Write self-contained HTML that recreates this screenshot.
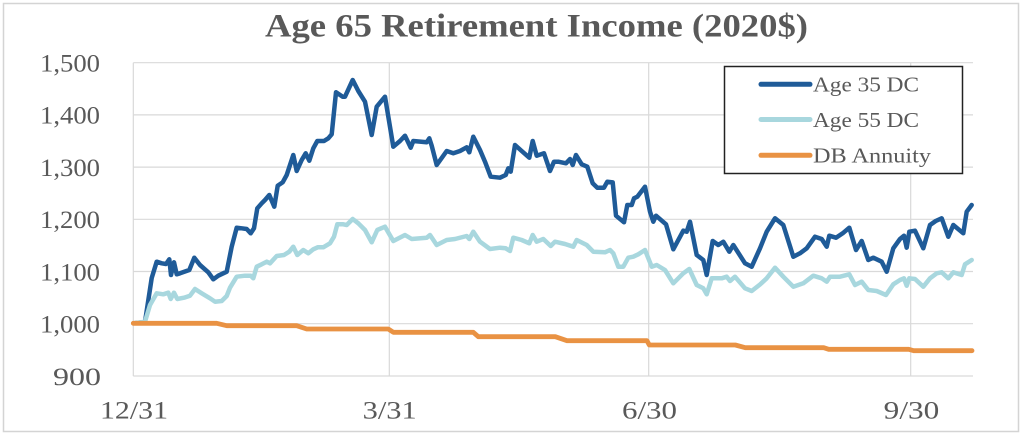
<!DOCTYPE html>
<html>
<head>
<meta charset="utf-8">
<style>
  html,body{margin:0;padding:0;background:#fff;}
  svg{display:block;}
  text{font-family:"Liberation Serif","DejaVu Serif",serif;fill:#595959;}
</style>
</head>
<body>
<svg width="1024" height="435" viewBox="0 0 1024 435" xmlns="http://www.w3.org/2000/svg">
  <rect x="0" y="0" width="1024" height="435" fill="#fff"/>
  <rect x="3.5" y="3.5" width="1015" height="428" fill="none" stroke="#d4d4d4" stroke-width="1.5"/>

  <!-- title -->
  <text x="265" y="36.7" font-size="32.5" font-weight="bold" textLength="543" lengthAdjust="spacingAndGlyphs">Age 65 Retirement Income (2020$)</text>

  <!-- gridlines -->
  <g stroke="#d9d9d9" stroke-width="1.2" fill="none">
    <line x1="133.3" y1="62.7" x2="973" y2="62.7"/>
    <line x1="133.3" y1="114.9" x2="973" y2="114.9"/>
    <line x1="133.3" y1="167.1" x2="973" y2="167.1"/>
    <line x1="133.3" y1="219.3" x2="973" y2="219.3"/>
    <line x1="133.3" y1="271.5" x2="973" y2="271.5"/>
    <line x1="133.3" y1="323.7" x2="973" y2="323.7"/>
    <line x1="133.3" y1="376" x2="973" y2="376"/>
    <line x1="133.3" y1="62.7" x2="133.3" y2="376"/>
    <line x1="389.3" y1="62.7" x2="389.3" y2="376"/>
    <line x1="648.7" y1="62.7" x2="648.7" y2="376"/>
    <line x1="910.7" y1="62.7" x2="910.7" y2="376"/>
  </g>

  <!-- y labels -->
  <g font-size="25" text-anchor="end">
    <text x="100" y="71.5" textLength="60" lengthAdjust="spacingAndGlyphs">1,500</text>
    <text x="100" y="123.7" textLength="60" lengthAdjust="spacingAndGlyphs">1,400</text>
    <text x="100" y="175.9" textLength="60" lengthAdjust="spacingAndGlyphs">1,300</text>
    <text x="100" y="228.1" textLength="60" lengthAdjust="spacingAndGlyphs">1,200</text>
    <text x="100" y="280.3" textLength="60" lengthAdjust="spacingAndGlyphs">1,100</text>
    <text x="100" y="332.5" textLength="60" lengthAdjust="spacingAndGlyphs">1,000</text>
    <text x="101" y="384.8" textLength="48" lengthAdjust="spacingAndGlyphs">900</text>
  </g>

  <!-- x labels -->
  <g font-size="25">
    <text x="100" y="418.3" textLength="68" lengthAdjust="spacingAndGlyphs">12/31</text>
    <text x="362.7" y="418.3" textLength="54" lengthAdjust="spacingAndGlyphs">3/31</text>
    <text x="622" y="418.3" textLength="55" lengthAdjust="spacingAndGlyphs">6/30</text>
    <text x="883.7" y="418.3" textLength="55.6" lengthAdjust="spacingAndGlyphs">9/30</text>
  </g>

  <!-- series -->
  <g fill="none" stroke-linejoin="round" stroke-linecap="round">
    <polyline stroke="#1f5b98" stroke-width="4.5" points="133.3,323.3 145,322 151.7,278 156.7,261.7 161.7,263.3 166,264 169.3,259.3 171,275 174,262.3 176.7,274.3 180,273.3 189.3,270 194.3,257.7 200,265 208.3,272.3 213.3,279.3 218.3,275.7 226.7,271.7 231.7,246.7 236.7,227.7 241.7,228.3 246.7,229 250.7,233.3 254,228.3 257.3,208.3 261.7,203.3 265,200 269.3,195 274.3,206.7 277.7,185.7 282.7,182.3 286.7,175 293.3,155 296.7,171 301.7,160 305.7,153.3 309.3,160.7 313.3,148.3 317.3,141 324,141 328.3,138.3 331.7,134.3 336,92.3 342.7,96.7 345,96.7 352.7,80 358.3,91 365,101.7 371.7,135 376.7,106.7 385,96.7 393.3,146.7 400,141 405,135.7 410.7,147.7 413.3,141 426.7,142.3 429.3,138.3 431.7,145.7 436.7,165 446.7,151 453.3,153.3 460,151 466.7,147.3 469.3,152.3 473.3,136.7 480,150 485,161.7 490.7,176.7 500,177.7 505.7,175 508.3,168.3 510.7,171.7 515,145 521.7,151 529.3,157.7 532.7,141 536.7,155.7 544,153.3 550,171 554,161.7 558.3,161.7 566,163.3 570,159 572.7,165 576,155 581.7,164.3 587.3,166.7 592.7,183.3 597.3,187.7 604,187.7 607.3,181.7 612.7,182.3 616,215.7 624,222.3 627.3,205 631.7,205 634,198.3 637.3,196.7 645,186.7 650,211.7 653.3,221.7 656,215.7 666,224.3 673.3,249.3 683.3,230.7 686.7,231.7 690,221.7 696.7,255 703.3,260 706.7,275 712.7,241 718.3,245 723.3,241.7 729.3,251.7 733.3,245 745,263.3 751.7,266.7 760,248.3 766.7,231.7 775,218.3 783.3,225 793.3,256.7 800,253.3 806.7,248.3 815,236.7 821.7,239 826.7,246.7 829.3,235.7 836,237.7 842.7,233.3 849.3,227.7 856,250 861.7,241 868.3,260 873.3,257.7 881.7,261.7 886.7,271.7 893.3,248.3 900,239 904,235.7 906.7,247.7 909.3,231.7 915,230.7 923.3,248.3 930,225 935.7,221 941.7,218.3 948.3,236.7 953.3,225 963.3,233.3 966.7,211.7 971.7,205"/>
    <polyline stroke="#a8d7de" stroke-width="4.5" points="133.3,323.3 145,321.7 150,305 156.7,293.3 163.3,294.3 168.3,292.7 170.7,299 174,292.7 177.3,299 184,297.7 190,295.7 195,289 201.7,293.3 210,298.3 215,301.7 221.7,301 226.7,296 230,287.7 236.7,276.7 245,275.7 250.7,275.7 253.3,278.3 256.7,266.7 261.7,264.3 266.7,261.7 270,263.3 276.7,256 284,255 289.3,251.7 293.3,246.7 297.3,255 303.3,250 308.3,253.3 313.3,249.3 317.7,247.3 323.3,247.3 330,243.3 334,236.7 337.3,224.3 343.3,224.3 346.7,225 352.7,219 358.3,223.3 365,230 371.7,242.3 377.3,230 385,226.7 393.3,241 405,235 411.7,239 426.7,237.7 430,235 436.7,245 446.7,240 455,239 466.7,236 469.3,239 473.3,231.7 480,241.7 490,249 500,247.7 505.7,248.3 510,251 513.3,237.7 521.7,240 529.3,243.3 532.7,235 536.7,241.7 543.3,239 550.7,246 555,241.7 565,244 573.3,246.7 576.7,240 586.7,245 593.3,251.7 605,252.3 610,250 613.3,253.3 618.3,266.7 623.3,266.7 628.3,257.7 633.3,256.7 638.3,254.3 645,250 651.7,266.7 656.7,265 665,270 673.3,283.3 683.3,273.3 689.3,269 696.7,285 703.3,288.3 706.7,294.3 711.7,278.3 721.7,278.3 726.7,276.7 730,281 735,276.7 745,288.3 751.7,291 760,284.5 766.7,278.3 775,267.7 783.3,276.7 793.3,286.7 803.3,283.3 813.3,275.7 821.7,278.3 826.7,281.7 830,276.7 840,276.7 849.3,274.3 855,285 861.7,281.7 868.3,290 876.7,291 886,295 893.3,284.3 900,280 904,278.3 906.7,285.7 909.3,278.3 915,279 923.3,286.7 930,278.3 936.7,273.3 941.7,272.3 948.3,278.3 953.3,272.3 961.7,275 965,264.3 971.7,260"/>
    <polyline stroke="#e99243" stroke-width="4.8" points="133.3,323.3 216.7,323.3 226.7,325.7 296.7,325.7 306.7,329 388.3,329 393.3,332.3 473.3,332.3 478.3,336.7 555.3,336.7 567,340.7 647,340.7 649.3,345 735.3,345 745.3,347.7 823.7,347.7 828.7,349.3 908.7,349.3 913.7,350.7 972,350.7"/>
  </g>

  <!-- legend -->
  <rect x="724.5" y="66.5" width="238" height="107" fill="#fff" stroke="#222" stroke-width="1.5"/>
  <g stroke-width="5" stroke-linecap="round">
    <line x1="761" y1="84.3" x2="810" y2="84.3" stroke="#1f5b98"/>
    <line x1="761" y1="119.5" x2="810" y2="119.5" stroke="#a8d7de"/>
    <line x1="761" y1="155.3" x2="810" y2="155.3" stroke="#e99243"/>
  </g>
  <g font-size="21.5">
    <text x="813" y="91.7" textLength="106" lengthAdjust="spacingAndGlyphs">Age 35 DC</text>
    <text x="813" y="127.2" textLength="106" lengthAdjust="spacingAndGlyphs">Age 55 DC</text>
    <text x="813" y="162.7" textLength="118" lengthAdjust="spacingAndGlyphs">DB Annuity</text>
  </g>
</svg>
</body>
</html>
